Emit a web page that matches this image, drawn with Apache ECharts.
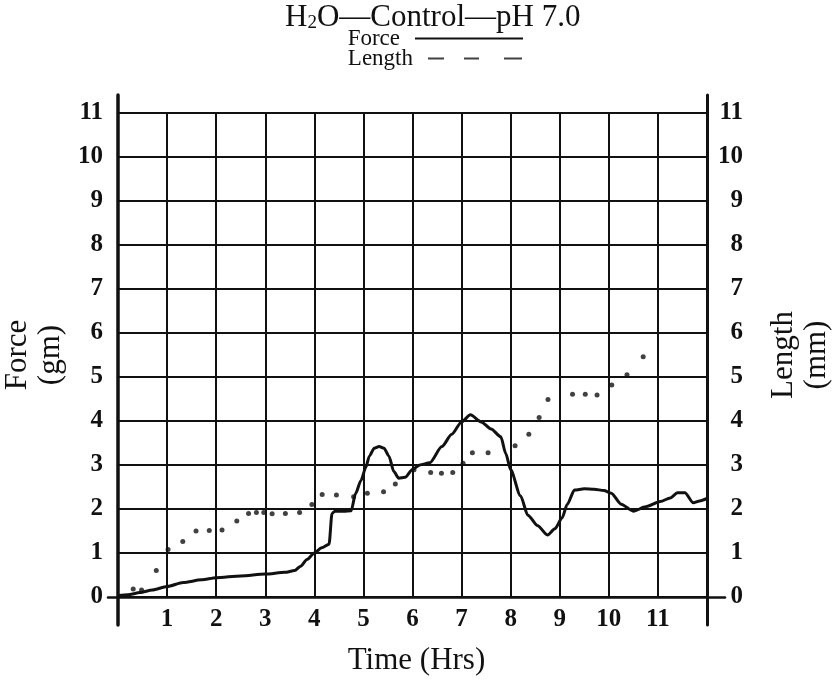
<!DOCTYPE html>
<html>
<head>
<meta charset="utf-8">
<title>H2O - Control - pH 7.0</title>
<script src="https://cdn.jsdelivr.net/npm/echarts@6/dist/echarts.min.js"></script>
<style>
  html, body { margin: 0; padding: 0; background: #fff; }
  #chart { width: 834px; height: 683px; }
</style>
</head>
<body>
<div id="chart"></div>
<script>
// Force (gm) trace, sampled along time (hrs)
const forceTime = [0, 0.2, 0.45, 0.7, 1.0, 1.33, 1.7, 2.0, 2.5, 3.0, 3.4, 3.6, 3.72, 3.85, 4.0, 4.15, 4.3, 4.36, 4.42, 4.6, 4.75, 4.84, 4.95, 5.05, 5.12, 5.22, 5.32, 5.42, 5.52, 5.62, 5.72, 5.85, 6.0, 6.15, 6.35, 6.6, 6.8, 7.0, 7.18, 7.4, 7.6, 7.8, 7.9, 8.0, 8.2, 8.35, 8.55, 8.75, 8.9, 9.05, 9.15, 9.3, 9.5, 9.7, 9.9, 10.05, 10.25, 10.5, 10.75, 11.05, 11.25, 11.4, 11.55, 11.72, 11.85, 12.0];
const forceGm = [0.03, 0.05, 0.1, 0.16, 0.24, 0.33, 0.39, 0.44, 0.48, 0.52, 0.56, 0.6, 0.7, 0.85, 1.0, 1.12, 1.2, 1.9, 1.95, 1.95, 1.96, 2.35, 2.65, 2.95, 3.2, 3.38, 3.42, 3.38, 3.2, 2.85, 2.7, 2.72, 2.9, 3.0, 3.05, 3.42, 3.7, 3.98, 4.14, 3.98, 3.82, 3.64, 3.26, 2.89, 2.3, 1.86, 1.62, 1.41, 1.55, 1.8, 2.1, 2.43, 2.46, 2.45, 2.42, 2.36, 2.11, 1.95, 2.05, 2.17, 2.25, 2.37, 2.37, 2.14, 2.18, 2.24];

// Length (mm) readings
const lengthTime = [0.31, 0.48, 0.78, 1.02, 1.32, 1.59, 1.86, 2.12, 2.42, 2.66, 2.82, 2.97, 3.14, 3.41, 3.7, 3.95, 4.16, 4.45, 4.8, 5.08, 5.41, 5.65, 6.03, 6.37, 6.59, 6.82, 7.03, 7.22, 7.54, 8.09, 8.37, 8.58, 8.76, 9.26, 9.52, 9.76, 10.06, 10.37, 10.7];
const lengthMm = [0.18, 0.16, 0.6, 1.08, 1.26, 1.5, 1.51, 1.52, 1.73, 1.9, 1.92, 1.92, 1.89, 1.9, 1.92, 2.1, 2.33, 2.32, 2.28, 2.36, 2.39, 2.57, 2.89, 2.83, 2.81, 2.83, 3.04, 3.28, 3.28, 3.44, 3.7, 4.08, 4.49, 4.61, 4.61, 4.59, 4.82, 5.05, 5.46];

// Tick labels
const timeTicks = ['1', '2', '3', '4', '5', '6', '7', '8', '9', '10', '11'];
const valueTicks = ['0', '1', '2', '3', '4', '5', '6', '7', '8', '9', '10', '11'];

const INK = '#111';
const SERIF = 'Liberation Serif';

const forceData = forceTime.map((t, i) => [t, forceGm[i]]);
const lengthData = lengthTime.map((t, i) => [t, lengthMm[i]]);

const tickLabel = {
  color: INK, fontFamily: SERIF, fontWeight: 'bold', fontSize: 25
};
const nameStyle = {
  color: INK, fontFamily: SERIF, fontSize: 31, lineHeight: 33
};
const legendText = {
  fontFamily: SERIF, fontSize: 23, color: INK, padding: [0, 10, 0, 0]
};

const chart = echarts.init(document.getElementById('chart'), null, { renderer: 'canvas' });

chart.setOption({
  backgroundColor: '#fff',
  animation: false,
  title: {
    text: '{a|H}{b|2}{a|O—Control—pH 7.0}',
    left: 285,
    top: -1,
    padding: 0,
    textStyle: {
      fontWeight: 'normal',
      rich: {
        a: { fontFamily: SERIF, fontWeight: 'normal', fontSize: 31, lineHeight: 34, color: INK, verticalAlign: 'bottom' },
        b: { fontFamily: SERIF, fontWeight: 'normal', fontSize: 19, lineHeight: 18, color: INK, verticalAlign: 'bottom' }
      }
    }
  },
  legend: [
    {
      data: [{ name: 'Force', icon: 'path://M0,0H108V2H0Z' }],
      right: 311, top: 27, padding: 0,
      align: 'right', selectedMode: false,
      itemWidth: 108, itemHeight: 2,
      itemStyle: { color: INK, borderWidth: 0 },
      textStyle: legendText
    },
    {
      data: [{ name: 'Length', icon: 'path://M0,0H16V2H0Z M36,0H51V2H36Z M76,0H94V2H76Z' }],
      right: 312, top: 47, padding: 0,
      align: 'right', selectedMode: false,
      itemWidth: 94, itemHeight: 2,
      itemStyle: { color: INK, borderWidth: 0 },
      textStyle: legendText
    }
  ],
  grid: [
    // plotting area, 0..12 hrs by 0..11
    { left: 118, right: 127, top: 113, bottom: 86, outerBoundsMode: 'none', containLabel: false },
    // tall frame for the two vertical axis rules
    { left: 118, right: 127, top: 95, bottom: 58, outerBoundsMode: 'none', containLabel: false },
    // wide frame for the baseline rule
    { left: 108, right: 109, top: 113, bottom: 86, outerBoundsMode: 'none', containLabel: false }
  ],
  xAxis: [
    {
      gridIndex: 0, type: 'value', min: 0, max: 12, interval: 1,
      name: 'Time (Hrs)', nameLocation: 'middle', nameGap: 47,
      nameTextStyle: Object.assign({}, nameStyle, { padding: [0, 0, 0, 8] }),
      axisLine: { show: false },
      axisTick: { show: false },
      axisLabel: Object.assign({}, tickLabel, {
        margin: 10,
        formatter: v => timeTicks.includes(String(v)) ? String(v) : ''
      }),
      splitLine: { show: true, lineStyle: { color: INK, width: 2 } }
    },
    { gridIndex: 1, type: 'value', min: 0, max: 1, show: false },
    {
      gridIndex: 2, type: 'value', min: 0, max: 1,
      axisLine: { show: true, onZero: false, lineStyle: { color: INK, width: 2.5 } },
      axisTick: { show: false }, axisLabel: { show: false }, splitLine: { show: false }
    }
  ],
  yAxis: [
    {
      gridIndex: 0, type: 'value', min: 0, max: 11, interval: 1, position: 'left',
      name: 'Force\n(gm)', nameLocation: 'middle', nameRotate: 90, nameGap: 45,
      nameTextStyle: nameStyle,
      axisLine: { show: false }, axisTick: { show: false },
      axisLabel: Object.assign({}, tickLabel, {
        margin: 15,
        formatter: v => valueTicks.includes(String(v)) ? String(v) : ''
      }),
      splitLine: { show: true, lineStyle: { color: INK, width: 2 } }
    },
    {
      gridIndex: 0, type: 'value', min: 0, max: 11, interval: 1, position: 'right',
      name: 'Length\n(mm)', nameLocation: 'middle', nameRotate: 90, nameGap: 60,
      nameTextStyle: nameStyle,
      axisLine: { show: false }, axisTick: { show: false },
      axisLabel: Object.assign({}, tickLabel, {
        margin: 36, align: 'right',
        formatter: v => valueTicks.includes(String(v)) ? String(v) : ''
      }),
      splitLine: { show: false }
    },
    {
      gridIndex: 1, type: 'value', min: 0, max: 1, position: 'left',
      axisLine: { show: true, onZero: false, lineStyle: { color: INK, width: 3.5 } },
      axisTick: { show: false }, axisLabel: { show: false }, splitLine: { show: false }
    },
    {
      gridIndex: 1, type: 'value', min: 0, max: 1, position: 'right',
      axisLine: { show: true, onZero: false, lineStyle: { color: INK, width: 3 } },
      axisTick: { show: false }, axisLabel: { show: false }, splitLine: { show: false }
    },
    { gridIndex: 2, type: 'value', min: 0, max: 1, show: false }
  ],
  series: [
    {
      name: 'Force', type: 'line', xAxisIndex: 0, yAxisIndex: 0,
      data: forceData, showSymbol: false, smooth: 0.25, smoothMonotone: 'x',
      lineStyle: { color: INK, width: 3 }, itemStyle: { color: INK },
      z: 5
    },
    {
      name: 'Length', type: 'scatter', xAxisIndex: 0, yAxisIndex: 1,
      data: lengthData, symbol: 'circle', symbolSize: 5,
      itemStyle: { color: INK }, z: 6
    }
  ]
});
</script>
</body>
</html>
